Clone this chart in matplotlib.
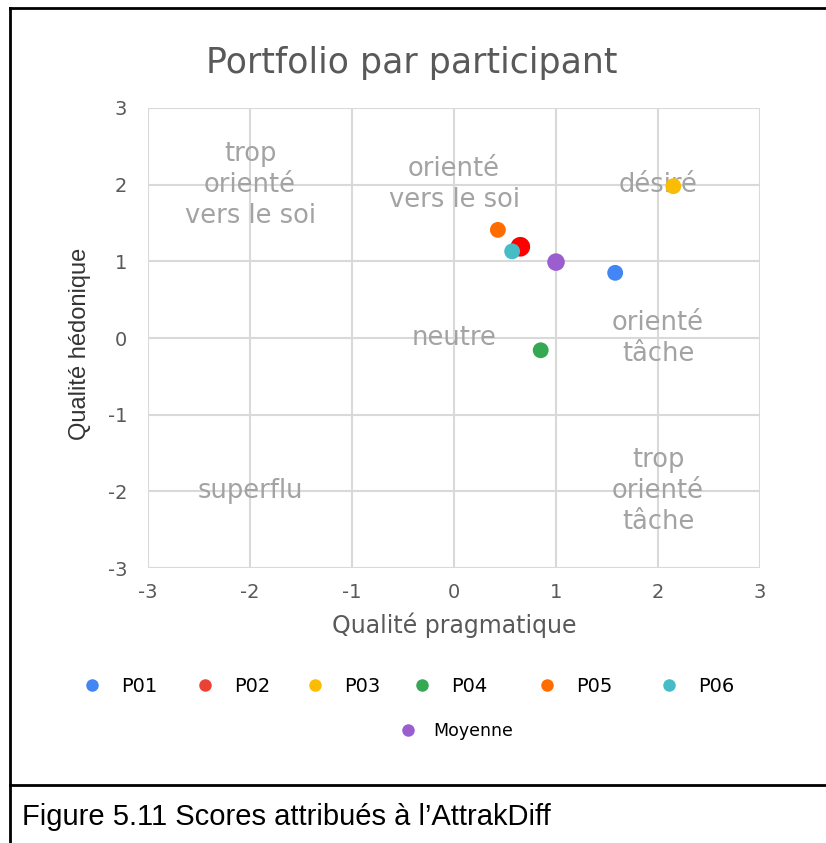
import matplotlib.pyplot as plt
from matplotlib.lines import Line2D

plt.rcParams['axes.unicode_minus'] = False

# scores AttrakDiff par participant (QP, QH)
participants = ['P01', 'P02', 'P03', 'P04', 'P05', 'P06']
qp = [1.58, 0.65, 2.15, 0.85, 0.43, 0.57]
qh = [0.85, 1.19, 1.98, -0.16, 1.41, 1.13]
point_colors = ['#4285F4', '#FF0000', '#FBBC04', '#34A853', '#FF6D01', '#46BDC6']
legend_colors = ['#4285F4', '#EA4335', '#FBBC04', '#34A853', '#FF6D01', '#46BDC6']
point_sizes = [130, 200, 130, 130, 130, 130]

moyenne_qp = 1.0
moyenne_qh = 0.99

# zones du portfolio
zones = ['trop\norienté\nvers le soi', 'orienté\nvers le soi', 'désiré',
         'neutre', 'orienté\ntâche', 'superflu', 'trop\norienté\ntâche']
zones_x = [-2, 0, 2, 0, 2, -2, 2]
zones_y = [2, 2, 2, 0, 0, -2, -2]

ticks = [-3, -2, -1, 0, 1, 2, 3]

fig = plt.figure(figsize=(8.26, 8.43), dpi=100)
ax = fig.add_axes([0.1792, 0.3262, 0.7409, 0.5457])

for lab, x, y in zip(zones, zones_x, zones_y):
    ax.text(x, y, lab, ha='center', va='center', color='#a3a3a3',
            fontsize=18.5, family='DejaVu Sans', linespacing=1.25, zorder=1)

for p, x, y, c, s in zip(participants, qp, qh, point_colors, point_sizes):
    ax.scatter(x, y, s=s, color=c, edgecolors='none', zorder=3)
ax.scatter(moyenne_qp, moyenne_qh, s=160, color='#9A5ECF', edgecolors='none', zorder=3)

ax.set_xlim(-3, 3)
ax.set_ylim(-3, 3)
ax.set_xticks(ticks)
ax.set_yticks(ticks)
ax.tick_params(length=0, labelsize=14, labelcolor='#595959')
ax.tick_params(axis='x', pad=11)
ax.tick_params(axis='y', pad=15)
for lbl in ax.get_xticklabels() + ax.get_yticklabels():
    lbl.set_family('DejaVu Sans')
ax.grid(True, color='#d9d9d9', linewidth=1.5)
ax.set_axisbelow(True)
for sp in ax.spines.values():
    sp.set_visible(False)

fig.text(0.55, 0.2586, 'Qualité pragmatique', ha='center', va='center',
         fontsize=17, color='#595959', family='DejaVu Sans')
fig.text(0.097, 0.592, 'Qualité hédonique', rotation=90, ha='center', va='center',
         fontsize=17, color='#333333', family=['Liberation Sans Narrow', 'Liberation Sans'])

fig.text(0.4988, 0.9253, 'Portfolio par participant', ha='center', va='center',
         fontsize=25, color='#595959', family='DejaVu Sans')

# légende, une entrée par position
legend_x = [82, 195, 305, 412, 537, 659]
for lab, c, lx in zip(participants, legend_colors, legend_x):
    h = Line2D([], [], marker='o', linestyle='none', markersize=9,
               markerfacecolor=c, markeredgecolor='none')
    fig.legend([h], [lab], loc='center left', bbox_to_anchor=(lx / 826, 0.1862),
               frameon=False, borderpad=0, borderaxespad=0, handlelength=1,
               handletextpad=1.0, prop={'family': 'DejaVu Sans', 'size': 14})
h = Line2D([], [], marker='o', linestyle='none', markersize=9,
           markerfacecolor='#9A5ECF', markeredgecolor='none')
fig.legend([h], ['Moyenne'], loc='center left', bbox_to_anchor=(399 / 826, 0.1329),
           frameon=False, borderpad=0, borderaxespad=0, handlelength=1,
           handletextpad=1.0, prop={'family': 'DejaVu Sans', 'size': 12.5})

# cadres du document
frame_kw = dict(color='black', linewidth=2, transform=fig.transFigure, clip_on=False)
fig.add_artist(Line2D([0.012, 1.0], [0.9905, 0.9905], **frame_kw))
fig.add_artist(Line2D([0.012, 0.012], [0.0, 0.9905], **frame_kw))
fig.add_artist(Line2D([0.012, 1.0], [0.069, 0.069], **frame_kw))

fig.text(0.027, 0.031, 'Figure 5.11 Scores attribués à l’AttrakDiff', ha='left', va='center',
         fontsize=21, color='black', family='Liberation Sans')

fig.savefig('out.png', dpi=100, facecolor='white')
